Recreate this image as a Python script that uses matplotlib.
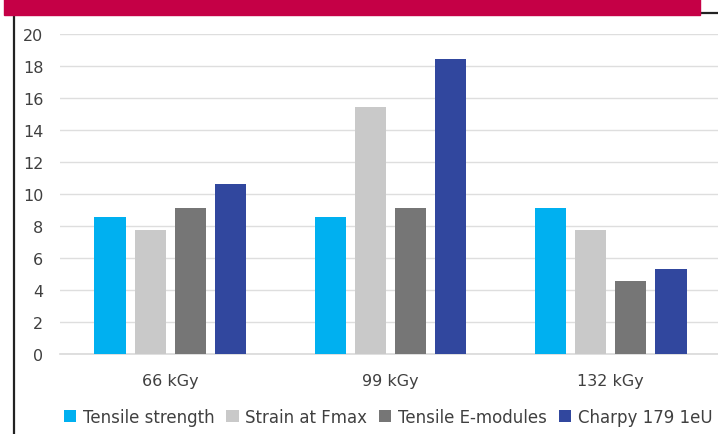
import numpy as np
import matplotlib; matplotlib.use('Agg')
import matplotlib.pyplot as plt
from matplotlib.lines import Line2D
from matplotlib.patches import Rectangle

doses = ['66 kGy', '99 kGy', '132 kGy']
tensile_strength = [8.55, 8.55, 9.1]
strain_fmax = [7.75, 15.4, 7.75]
tensile_emod = [9.1, 9.1, 4.55]
charpy = [10.6, 18.4, 5.3]
series_names = ['Tensile strength', 'Strain at Fmax', 'Tensile E-modules', 'Charpy 179 1eU']
COLORS = ['#00B0F0', '#C9C9C9', '#767676', '#31479E']
TXT = '#404040'

plt.rcParams['font.family'] = ['DejaVu Sans']

fig = plt.figure(figsize=(7.18, 4.35), dpi=100)
W, H = 718, 435
ax = fig.add_axes([60 / W, (H - 354.7) / H, 661 / W, 320 / H])

x = np.arange(len(doses))
bw, step = 0.141, 0.182
for i, (vals, c) in enumerate(zip([tensile_strength, strain_fmax, tensile_emod, charpy], COLORS)):
    ax.bar(x + (i - 1.5) * step, vals, bw, color=c, label=series_names[i], zorder=3)

ax.set_ylim(0, 20)
ax.set_xlim(-0.5, 2.5)
ax.set_yticks(range(0, 21, 2))
ax.yaxis.grid(True, color='#DEDEDE', lw=1.0, zorder=0)
ax.axhline(0, color='#D9D9D9', lw=1.2, zorder=2, clip_on=False)
ax.set_axisbelow(True)
for s in ax.spines.values():
    s.set_visible(False)
ax.tick_params(axis='both', length=0, labelsize=11.5, colors=TXT)
ax.tick_params(axis='y', pad=12)
ax.tick_params(axis='x', pad=14)
ax.set_xticks(x)
ax.set_xticklabels(doses)

leg = fig.legend(loc='center', bbox_to_anchor=(388 / W, (H - 418) / H), ncol=4, frameon=False,
                 fontsize=12, handlelength=0.75, handleheight=0.75, handletextpad=0.4,
                 columnspacing=0.7, labelcolor=TXT)

# header band and frame lines
fig.patches.append(Rectangle((4 / W, 1 - 16 / H), 696 / W, 16 / H, transform=fig.transFigure,
                             color='#C50046', zorder=5))
fig.lines.append(Line2D([14 / W, 14 / W], [0, 1 - 16 / H], transform=fig.transFigure,
                        color='#222222', lw=1.6))
fig.lines.append(Line2D([700 / W, 1], [1 - 14 / H, 1 - 14 / H], transform=fig.transFigure,
                        color='#222222', lw=1.6))

fig.savefig('out.png', dpi=100)
